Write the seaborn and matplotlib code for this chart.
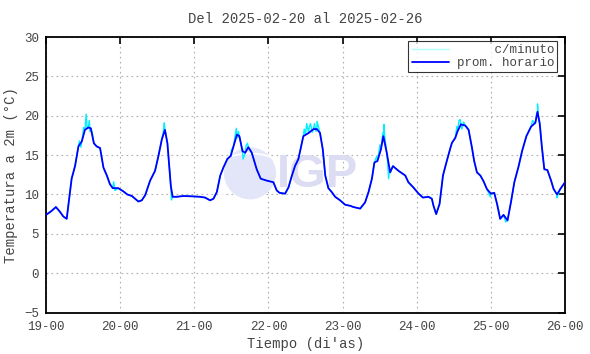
import matplotlib
matplotlib.use("Agg")
import matplotlib.pyplot as plt
from matplotlib.patches import Ellipse, Arc
import seaborn as sns
import pandas as pd

# hourly mean (hours since 2025-02-19 00:00, degC)
hour_t = [0, 1.8, 3.2, 4.5, 5.6, 6.7, 8.3, 9.4, 10.5, 11.6, 12.6, 13.7, 14.5, 15.5, 16.4,
          17.5, 18.6, 19.7, 20.7, 21.6, 23.4, 25.0, 26.3, 27.8, 29.9, 31.0, 32.1, 33.7,
          35.3, 36.4, 37.5, 38.5, 39.3, 39.9, 40.4, 41.0, 42.3, 44.5, 47.7, 49.9, 51.5,
          53.1, 54.2, 55.3, 56.4, 57.4, 58.7, 59.8, 60.7, 61.8, 62.6, 63.6, 64.5, 65.5,
          66.6, 68.2, 69.5, 71.5, 73.6, 74.7, 75.6, 77.4, 78.5, 79.6, 80.6, 81.7, 83.3,
          85.0, 86.6, 87.7, 88.7, 89.6, 90.4, 91.4, 92.5, 93.6, 95.2, 96.8, 98.5, 99.5,
          101.7, 103.3, 104.4, 105.5, 106.3, 107.3, 108.4, 109.2, 110.3, 111.4, 112.3,
          114.1, 116.3, 117.3, 118.9, 120.6, 122.0, 123.8, 124.9, 125.4, 126.3, 127.4,
          128.5, 129.6, 130.9, 131.4, 132.5, 133.2, 134.3, 135.7, 136.8, 137.9, 138.6,
          139.5, 140.6, 141.6, 142.7, 144.0, 145.1, 146.0, 147.0, 148.1, 149.4, 150.5,
          151.6, 153.0, 154.1, 155.5, 157.0, 158.4, 159.1, 159.8, 160.5, 161.3, 162.3,
          163.5, 164.3, 165.4, 166.5, 168.0]
hour_v = [7.4, 7.9, 8.4, 7.8, 7.2, 6.9, 12.0, 13.6, 16.1, 16.75, 18.2, 18.5, 18.4, 16.5, 16.1,
          15.9, 13.4, 12.4, 11.3, 10.8, 10.8, 10.4, 10.0, 9.8, 9.1, 9.25, 9.9, 11.75,
          13.0, 14.9, 17.0, 18.2, 16.5, 13.6, 11.1, 9.7, 9.7, 9.8, 9.75, 9.7, 9.6,
          9.25, 9.45, 10.3, 12.4, 13.4, 14.5, 14.9, 16.1, 17.6, 17.4, 15.5, 15.3, 16.0,
          15.3, 13.2, 12.0, 11.75, 11.55, 10.5, 10.2, 10.1, 10.9, 12.4, 13.6, 14.5, 17.4,
          17.8, 18.3, 18.3, 17.8, 15.7, 12.4, 10.8, 10.3, 9.7, 9.25, 8.7, 8.55, 8.4,
          8.2, 9.0, 10.3, 12.0, 14.05, 14.25, 15.7, 17.4, 15.3, 12.8, 13.6,
          13.0, 12.4, 11.55, 10.9, 10.1, 9.6, 9.7, 9.45, 8.6, 7.5, 8.8,
          12.4, 14.05, 15.9, 16.55, 17.2, 18.0, 18.9, 18.75, 18.2, 15.9, 14.25,
          12.8, 12.4, 11.7, 10.7, 10.1, 10.2, 8.8, 6.9, 7.4, 6.7, 9.0,
          11.55, 13.6, 15.5, 17.4, 18.6, 19.1, 20.5, 19.05, 16.1, 13.2, 13.1,
          11.75, 10.7, 10.0, 10.7, 11.55]

# extra per-minute excursions seen around the peaks
spike_t = [10.0, 10.8, 11.3, 12.2, 12.8, 13.0, 13.3, 14.0, 14.3, 15.0, 21.9, 22.3,
           38.0, 38.3, 38.7, 40.6,
           60.0, 61.3, 61.6, 62.0, 62.3, 63.8, 64.8, 65.2,
           83.6, 84.0, 84.4, 85.2, 85.6, 86.2, 86.9, 87.4, 87.7, 88.2,
           107.0, 108.1, 109.0, 109.4, 109.6, 110.6, 110.9, 111.2,
           133.0, 133.7, 134.1, 134.6, 135.2, 136.2, 143.8, 146.6, 148.8,
           157.5, 158.2, 158.8, 159.1, 159.4, 160.0, 165.4]
spike_v = [15.0, 16.8, 16.0, 18.5, 19.2, 20.2, 18.4, 19.4, 18.0, 17.8, 11.6, 10.5,
           18.0, 19.1, 17.9, 9.3,
           15.6, 17.6, 18.4, 17.2, 18.0, 14.5, 16.2, 16.5,
           18.3, 17.6, 19.0, 18.5, 19.0, 17.9, 19.0, 18.0, 19.3, 18.6,
           14.8, 16.3, 17.8, 18.9, 17.5, 14.0, 12.0, 13.3,
           18.6, 19.4, 19.5, 18.3, 19.2, 18.6, 9.7, 7.9, 6.5,
           19.4, 19.0, 20.3, 21.5, 19.8, 18.5, 9.6]

day_labels = ["19-00", "20-00", "21-00", "22-00", "23-00", "24-00", "25-00", "26-00"]
y_ticks = [-5, 0, 5, 10, 15, 20, 25, 30]

hourly = pd.DataFrame({"t": hour_t, "v": hour_v})
minute = pd.concat([hourly, pd.DataFrame({"t": spike_t, "v": spike_v})]).sort_values("t")

sns.set_style("white")
plt.rcParams["font.family"] = ["Liberation Mono", "DejaVu Sans Mono"]

fig = plt.figure(figsize=(5.9, 3.54), dpi=100)
ax = fig.add_axes([46 / 590, 1 - 312.5 / 354, 519 / 590, 275.5 / 354])

# IGP watermark
ax.add_patch(Ellipse((0.393, 0.505), 52 / 519, 52 / 275.5, transform=ax.transAxes,
                     facecolor="#e3e6f8", edgecolor="none", zorder=1))
for w, h, a1, a2 in [(70, 40, 20, 120), (80, 60, 200, 300)]:
    ax.add_patch(Arc((0.393, 0.505), w / 519, h / 275.5, transform=ax.transAxes,
                     theta1=a1, theta2=a2, color="white", lw=1.2, zorder=1))
ax.text(0.524, 0.50, "IGP", transform=ax.transAxes, ha="center", va="center",
        fontsize=34, fontweight="bold", family="Liberation Sans", color="#dcdcf2", zorder=1)

sns.lineplot(data=minute, x="t", y="v", ax=ax, color="#00f0ff", lw=1.0,
             label="     c/minuto", estimator=None, sort=False, zorder=2)
sns.lineplot(data=hourly, x="t", y="v", ax=ax, color="#0000ff", lw=1.3,
             label="prom. horario", estimator=None, sort=False, zorder=3)

ax.set_xlim(0, 168)
ax.set_ylim(-5, 30)
ax.set_xticks(range(0, 169, 24))
ax.set_xticklabels(day_labels)
ax.set_yticks(y_ticks)
ax.grid(True, color="#b0b0b0", linestyle=(0, (1.5, 3)), lw=0.8, zorder=0)
ax.tick_params(direction="in", length=5, width=1.2, top=True, right=True,
               labelsize=9, colors="black")
ax.tick_params(axis="x", pad=6)
ax.tick_params(axis="y", pad=5)
for lab in ax.get_xticklabels() + ax.get_yticklabels():
    lab.set_color("#444444")
for s in ax.spines.values():
    s.set_linewidth(1.3)
    s.set_color("black")

ax.set_xlabel("Tiempo (di'as)", fontsize=10, color="#444444", labelpad=3)
ax.set_ylabel("Temperatura a 2m (°C)", fontsize=10, color="#444444", labelpad=4)
ax.set_title("Del 2025-02-20 al 2025-02-26", fontsize=10, color="#444444", pad=10)

leg = ax.legend(loc="upper right", bbox_to_anchor=(0.985, 0.986), borderaxespad=0,
                fontsize=9, frameon=True, fancybox=False, edgecolor="black",
                handlelength=3.0, labelspacing=0.1, borderpad=0.25, handletextpad=0.6)
leg.get_frame().set_linewidth(0.8)
leg.get_lines()[0].set_color("#b0ffff")
for t in leg.get_texts():
    t.set_color("#444444")

fig.savefig("out.png", dpi=100)
